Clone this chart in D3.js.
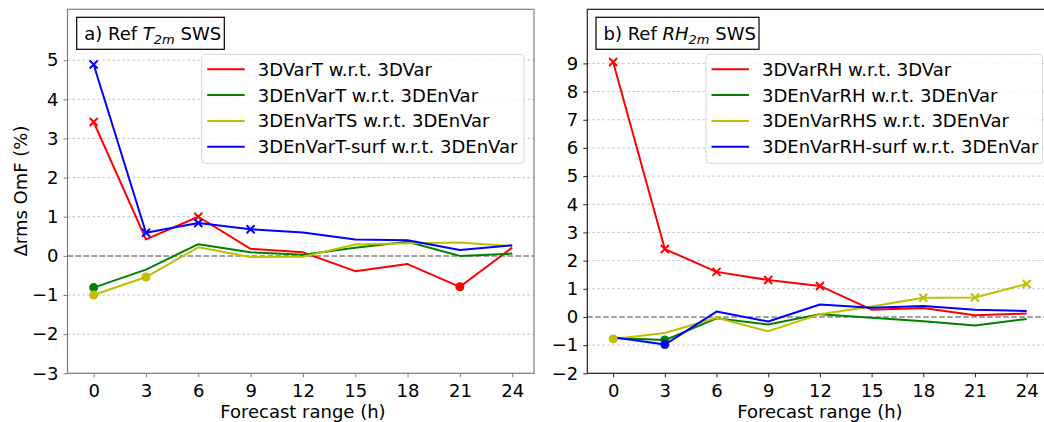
<!DOCTYPE html>
<html><head><meta charset="utf-8">
<script src="https://cdn.jsdelivr.net/npm/d3@7"></script>
<style>
body{margin:0;background:#fff;}
svg{display:block;font-family:"DejaVu Sans",sans-serif;}
</style></head>
<body><svg id="c" width="1044" height="422"></svg>
<script>
const hours = [0, 3, 6, 9, 12, 15, 18, 21, 24];
const xTicks = [0, 3, 6, 9, 12, 15, 18, 21, 24];
const yTicksA = [-3, -2, -1, 0, 1, 2, 3, 4, 5];
const yTicksB = [-2, -1, 0, 1, 2, 3, 4, 5, 6, 7, 8, 9];

const namesA = ["3DVarT w.r.t. 3DVar", "3DEnVarT w.r.t. 3DEnVar", "3DEnVarTS w.r.t. 3DEnVar", "3DEnVarT-surf w.r.t. 3DEnVar"];
const namesB = ["3DVarRH w.r.t. 3DVar", "3DEnVarRH w.r.t. 3DEnVar", "3DEnVarRHS w.r.t. 3DEnVar", "3DEnVarRH-surf w.r.t. 3DEnVar"];
const colors = ["#ff0000", "#008000", "#bfbf00", "#0000ff"];

// panel a) values
const a_3DVarT      = [3.42, 0.42, 1.00, 0.18, 0.09, -0.39, -0.21, -0.79, 0.21];
const a_3DEnVarT    = [-0.81, -0.35, 0.30, 0.09, 0.03, 0.21, 0.36, 0.00, 0.06];
const a_3DEnVarTS   = [-1.00, -0.54, 0.22, -0.03, -0.02, 0.29, 0.32, 0.34, 0.25];
const a_3DEnVarTsurf= [4.89, 0.59, 0.84, 0.68, 0.60, 0.42, 0.40, 0.15, 0.27];
// significance markers: x = significant degradation, o = significant improvement
const a_mk_3DVarT      = ["x", "", "x", "", "", "", "", "o", ""];
const a_mk_3DEnVarT    = ["o", "", "", "", "", "", "", "", ""];
const a_mk_3DEnVarTS   = ["o", "o", "", "", "", "", "", "", ""];
const a_mk_3DEnVarTsurf= ["x", "x", "x", "x", "", "", "", "", ""];

// panel b) values
const b_3DVarRH      = [9.05, 2.41, 1.60, 1.31, 1.10, 0.26, 0.32, 0.06, 0.12];
const b_3DEnVarRH    = [-0.75, -0.82, -0.05, -0.27, 0.10, -0.03, -0.15, -0.30, -0.07];
const b_3DEnVarRHS   = [-0.78, -0.57, -0.03, -0.51, 0.10, 0.37, 0.68, 0.69, 1.17];
const b_3DEnVarRHsurf= [-0.72, -0.98, 0.19, -0.16, 0.44, 0.33, 0.39, 0.26, 0.21];
const b_mk_3DVarRH      = ["x", "x", "x", "x", "x", "", "", "", ""];
const b_mk_3DEnVarRH    = ["", "o", "", "", "", "", "", "", ""];
const b_mk_3DEnVarRHS   = ["o", "", "", "", "", "", "x", "x", "x"];
const b_mk_3DEnVarRHsurf= ["", "o", "", "", "", "", "", "", ""];

const svg = d3.select("#c");
const FS = 18;

function panel(cfg) {
  const g = svg.append("g");
  const x = d3.scaleLinear().domain([-1.5, 25.25]).range([cfg.x0, cfg.x1]);
  const y = d3.scaleLinear().domain(cfg.ydom).range([373.3, 9.3]);

  // grid
  g.append("g").selectAll("line").data(cfg.yticks.filter(v => v !== 0)).join("line")
    .attr("x1", cfg.x0).attr("x2", cfg.x1)
    .attr("y1", d => y(d)).attr("y2", d => y(d))
    .attr("stroke", "#b0b0b0").attr("stroke-width", 0.8).attr("stroke-dasharray", "2.5,2.5");
  // zero line
  g.append("line").attr("x1", cfg.x0).attr("x2", cfg.x1)
    .attr("y1", y(0)).attr("y2", y(0))
    .attr("stroke", "#808080").attr("stroke-width", 1.5).attr("stroke-dasharray", "5.5,2.5");

  // axes
  const xa = g.append("g").attr("transform", `translate(0,${y.range()[0]})`)
    .call(d3.axisBottom(x).tickValues(cfg.xticks).tickFormat(d3.format("d")).tickSize(4).tickPadding(7));
  const ya = g.append("g").attr("transform", `translate(${cfg.x0},0)`)
    .call(d3.axisLeft(y).tickValues(cfg.yticks).tickFormat(d3.format("d")).tickSize(4).tickPadding(5));
  [xa, ya].forEach(a => {
    a.select(".domain").remove();
    a.selectAll(".tick line").attr("stroke", cfg.spine);
    a.selectAll(".tick text").attr("font-size", FS).attr("fill", "#000").attr("font-family", "DejaVu Sans");
  });
  // frame
  g.append("rect").attr("x", cfg.x0).attr("y", 9.3).attr("width", cfg.x1 - cfg.x0).attr("height", 373.3 - 9.3)
    .attr("fill", "none").attr("stroke", cfg.spine).attr("stroke-width", 1.2);

  // lines
  const line = d3.line().x((d, i) => x(hours[i])).y(d => y(d));
  cfg.series.forEach((s, k) => {
    g.append("path").datum(s).attr("d", line).attr("fill", "none")
      .attr("stroke", colors[k]).attr("stroke-width", 2).attr("stroke-linejoin", "round");
  });
  cfg.series.forEach((s, k) => {
    const mk = cfg.markers[k];
    s.forEach((v, i) => {
      const px = x(hours[i]), py = y(v);
      if (mk[i] === "x") {
        const r = 4;
        g.append("path").attr("d", `M${px - r},${py - r}L${px + r},${py + r}M${px - r},${py + r}L${px + r},${py - r}`)
          .attr("stroke", colors[k]).attr("stroke-width", 2).attr("fill", "none");
      } else if (mk[i] === "o") {
        g.append("circle").attr("cx", px).attr("cy", py).attr("r", 4.5).attr("fill", colors[k]);
      }
    });
  });

  // title box
  const tb = g.append("g");
  tb.append("rect").attr("x", cfg.tx).attr("y", 17.3).attr("width", cfg.tw).attr("height", 32)
    .attr("fill", "#fff").attr("stroke", "#000").attr("stroke-width", 1.2);
  const tt = tb.append("text").attr("x", cfg.tx + 7.5).attr("y", 39.8).attr("font-size", FS).attr("fill", "#000");
  tt.append("tspan").text(cfg.titlePre + " ");
  tt.append("tspan").attr("font-style", "italic").text(cfg.titleVar);
  tt.append("tspan").attr("font-style", "italic").attr("font-size", 13).attr("dy", 4.5).text("2m");
  tt.append("tspan").attr("dy", -4.5).text(" SWS");

  // legend
  const lg = g.append("g");
  lg.append("rect").attr("x", cfg.lx).attr("y", 54.3).attr("width", cfg.lw).attr("height", 109).attr("rx", 3)
    .attr("fill", "#fff").attr("fill-opacity", 0.8).attr("stroke", "#d6d6d6").attr("stroke-width", 1);
  cfg.names.forEach((n, k) => {
    const ly = 69.3 + k * 25.8;
    lg.append("line").attr("x1", cfg.lx + 5.5).attr("x2", cfg.lx + 43).attr("y1", ly).attr("y2", ly)
      .attr("stroke", colors[k]).attr("stroke-width", 2);
    lg.append("text").attr("x", cfg.lx + 56).attr("y", ly + 6.5).attr("font-size", FS).attr("fill", "#000").text(n);
  });

  // x label
  g.append("text").attr("x", (x(0) + x(24)) / 2).attr("y", 418).attr("text-anchor", "middle")
    .attr("font-size", FS).attr("fill", "#000").text("Forecast range (h)");
  return {x, y};
}

panel({x0: 67.5, x1: 534, ydom: [-3, 6.3], yticks: yTicksA, xticks: xTicks, spine: "#7f7f7f",
  series: [a_3DVarT, a_3DEnVarT, a_3DEnVarTS, a_3DEnVarTsurf],
  markers: [a_mk_3DVarT, a_mk_3DEnVarT, a_mk_3DEnVarTS, a_mk_3DEnVarTsurf],
  names: namesA, titlePre: "a) Ref", titleVar: "T", tx: 76.7, tw: 147.6, lx: 201.7, lw: 322.3});

panel({x0: 587.3, x1: 1048.2, ydom: [-2, 10.92], yticks: yTicksB, xticks: xTicks, spine: "#222",
  series: [b_3DVarRH, b_3DEnVarRH, b_3DEnVarRHS, b_3DEnVarRHsurf],
  markers: [b_mk_3DVarRH, b_mk_3DEnVarRH, b_mk_3DEnVarRHS, b_mk_3DEnVarRHsurf],
  names: namesB, titlePre: "b) Ref", titleVar: "RH", tx: 596, tw: 163, lx: 706, lw: 336.7});

svg.append("text").attr("transform", "translate(27,191) rotate(-90)").attr("text-anchor", "middle")
  .attr("font-size", FS).attr("fill", "#000").text("Δrms OmF (%)");
</script></body></html>
